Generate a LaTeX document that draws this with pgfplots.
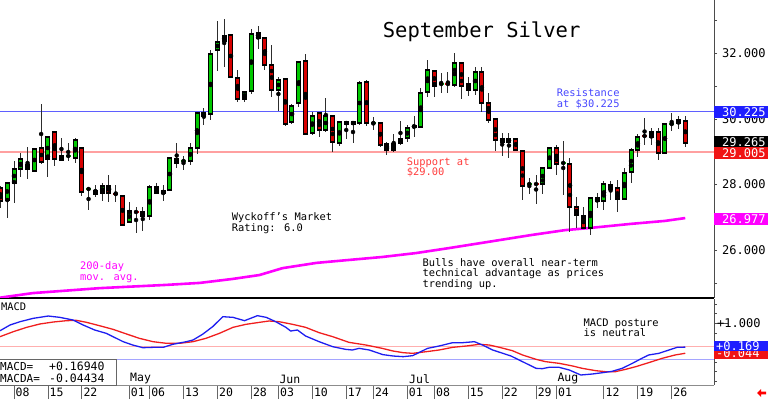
\documentclass[border=0pt]{standalone}
\usepackage{pgfplots}
\pgfplotsset{compat=1.18}
\usepackage{pgfplotstable}
\usepackage{fontspec}
\setmainfont{DejaVu Sans Mono}
\definecolor{cgreen}{RGB}{0,200,0}
\definecolor{cred}{RGB}{215,0,0}
\definecolor{wickc}{RGB}{45,45,45}
\definecolor{restext}{RGB}{70,70,255}
\definecolor{suptext}{RGB}{255,60,60}
\definecolor{mag}{RGB}{255,0,255}
\definecolor{mblue}{RGB}{30,30,240}
\definecolor{mred}{RGB}{240,30,30}
\definecolor{boxblue}{RGB}{30,30,255}
\definecolor{boxred}{RGB}{240,20,20}
\definecolor{mpink}{RGB}{255,175,175}
\definecolor{mlblue}{RGB}{165,165,255}
\definecolor{resblue}{RGB}{95,95,255}
\definecolor{suppink}{RGB}{255,160,160}
\newcommand{\fs}[2]{\fontsize{#1}{#2}\selectfont}

\pgfplotstableread{
x o h l c
-1 27.528 28.076 26.979 28.046
0 28.046 28.717 27.436 28.473
1 28.473 28.960 28.229 28.777
3 28.412 29.082 28.412 29.082
5 28.777 29.479 28.229 29.448
7 28.747 29.418 28.747 28.869
9 28.808 29.418 28.656 29.357
13 27.741 28.046 27.497 27.954
17 26.857 27.467 26.857 27.192
20 27.040 27.985 26.918 27.924
22 27.741 27.985 27.497 27.802
23 27.832 28.808 27.832 28.808
26 28.717 29.265 28.595 29.113
27 29.113 30.210 28.930 30.180
29 30.149 32.101 29.966 31.979
30 32.101 32.985 31.460 32.345
31 32.375 33.046 31.582 32.527
34 30.607 30.820 30.515 30.820
35 30.851 32.741 30.759 32.588
39 30.881 31.277 30.241 31.186
41 29.905 30.454 29.844 30.393
42 30.485 31.765 30.363 31.735
44 29.570 30.210 29.509 30.088
46 29.662 30.637 29.601 30.088
48 29.265 29.936 29.174 29.905
50 29.844 29.936 29.265 29.905
51 29.875 31.155 29.814 31.094
56 29.052 29.540 28.991 29.235
57 29.265 29.936 29.204 29.387
58 29.418 29.814 29.296 29.723
59 29.753 30.088 29.448 29.784
60 29.753 30.942 29.753 30.790
61 30.820 31.796 30.668 31.491
65 31.034 32.009 30.973 31.704
68 30.881 31.582 30.729 31.430
73 29.296 29.570 28.808 29.387
78 28.015 28.534 27.710 28.503
79 28.503 29.143 28.503 29.113
85 26.674 27.619 26.460 27.589
87 27.497 28.107 27.223 28.015
90 27.558 28.503 27.528 28.351
91 28.381 29.113 28.046 29.052
92 29.052 29.540 28.838 29.448
94 29.448 29.723 29.204 29.601
96 28.960 29.875 28.930 29.844
98 29.875 30.088 29.692 29.966
}\upc

\pgfplotstableread{
x o h l c
-2 27.893 27.950 27.284 27.497
2 28.595 29.143 28.168 28.473
4 29.113 30.454 28.625 28.686
6 29.601 29.601 28.564 28.777
10 29.113 29.113 27.650 27.771
12 27.802 27.985 27.619 27.710
14 27.954 28.290 27.467 27.741
16 27.650 27.680 26.765 26.765
19 27.162 27.314 26.582 27.040
21 27.924 28.046 27.710 27.741
24 28.777 29.265 28.503 28.656
28 30.180 30.320 29.814 30.088
32 32.558 32.558 31.277 31.277
33 31.247 31.491 30.515 30.607
36 32.619 32.832 32.131 32.466
37 32.466 32.466 31.491 31.643
38 31.643 32.253 30.668 30.881
40 31.216 31.216 29.784 29.844
43 31.765 31.979 29.540 29.540
45 30.180 30.180 29.448 29.662
47 30.088 30.088 28.991 29.296
49 29.905 29.936 29.387 29.844
52 31.125 31.186 29.784 29.875
54 29.875 29.905 29.143 29.204
55 29.235 29.296 28.899 29.052
62 31.460 31.460 30.668 31.003
66 31.704 31.704 30.607 31.003
67 31.064 31.277 30.698 30.881
69 31.430 31.582 30.210 30.485
70 30.485 30.790 29.875 29.966
71 29.997 29.997 29.021 29.357
72 29.387 29.570 28.869 29.296
74 29.387 29.418 29.021 29.052
75 29.021 29.021 27.528 27.954
80 29.113 29.204 28.290 28.625
82 28.625 28.808 26.552 27.314
83 27.314 27.619 26.674 27.070
84 27.040 27.314 26.643 26.674
86 27.589 27.741 27.284 27.497
88 27.985 28.107 27.528 27.863
89 27.893 28.137 27.162 27.558
95 29.601 29.723 28.747 28.960
99 29.936 30.088 29.143 29.265
}\dnc

\pgfplotstableread{
x o h l c
8 28.850 29.265 28.717 28.869
11 27.850 27.893 27.223 27.863
25 28.700 28.869 28.442 28.717
53 29.860 30.060 29.662 29.875
63 31.003 31.399 30.790 31.064
76 27.954 28.198 27.710 28.015
81 28.595 29.326 27.680 28.656
97 29.830 30.180 29.631 29.844
}\upd

\pgfplotstableread{
x o h l c
15 27.720 27.985 27.467 27.710
18 27.180 27.314 26.521 27.162
64 31.080 31.430 30.790 31.064
77 28.030 28.290 27.406 28.015
93 29.490 30.027 29.204 29.479
}\dnd

\pgfplotsset{
  wick/.style={only marks, mark=none, error bars/.cd, y dir=both, y explicit,
    error mark=none, error bar style={line width=1pt, color=wickc, line cap=butt}},
  bodyo/.style={only marks, mark=none, error bars/.cd, y dir=both, y explicit,
    error mark=none, error bar style={line width=5pt, color=black, line cap=butt}},
  bodyc/.style={only marks, mark=none, error bars/.cd, y dir=both, y explicit,
    error mark=none, error bar style={line width=3pt, color=#1, line cap=butt}},
  dojic/.style={only marks, mark=none, error bars/.cd, y dir=both, y explicit,
    error mark=none, error bar style={line width=5pt, color=#1, line cap=butt}},
}

\begin{document}
\begin{tikzpicture}[x=1pt,y=1pt]
\useasboundingbox (0pt,0pt) rectangle (768pt,399pt);

% ---------------- price panel ----------------
\begin{axis}[at={(0pt,101pt)}, anchor=south west, scale only axis,
  width=714pt, height=298pt,
  xmin=-2.065, xmax=103.24, ymin=24.54, ymax=33.625,
  axis x line*=bottom, axis y line*=right,
  x axis line style={-, black, line width=1.5pt},
  y axis line style={-, black!70, line width=0.8pt},
  xtick=\empty,
  ytick={26,28,30,32}, yticklabels={26.000,28.000,30.000,32.000},
  minor ytick={25,27,29,31,33},
  tick align=outside, major tick length=3pt, minor tick length=3pt,
  tick style={black!70},
  yticklabel style={font=\fs{12}{12}, anchor=west, inner sep=0pt, xshift=5pt, text=black},
]
\addplot[color=mag, line width=2.6pt, mark=none] coordinates {
(-2.06,24.55) (2.8,24.69) (12.6,24.84) (22.5,24.94) (27.4,25.00) (32.2,25.12)
(36.2,25.24) (39.6,25.45) (44.6,25.61) (49.4,25.70) (54.3,25.79) (59.3,25.91)
(64.1,26.06) (69.0,26.22) (76.3,26.46) (81.3,26.61) (84.7,26.67) (91.0,26.80)
(96.0,26.89) (99.0,26.977)};
\addplot[color=suppink, line width=2pt, mark=none] coordinates {(-2.065,29.005) (103.24,29.005)};
\addplot[draw=resblue, color=resblue, line width=1.6pt, mark=none] coordinates {(-2.065,30.225) (103.24,30.225)};
% wicks
\addplot[wick] table[x=x, y expr={(\thisrow{h}+\thisrow{l})/2},
  y error expr={(\thisrow{h}-\thisrow{l})/2}] {\upc};
\addplot[wick] table[x=x, y expr={(\thisrow{h}+\thisrow{l})/2},
  y error expr={(\thisrow{h}-\thisrow{l})/2}] {\dnc};
\addplot[wick] table[x=x, y expr={(\thisrow{h}+\thisrow{l})/2},
  y error expr={(\thisrow{h}-\thisrow{l})/2}] {\upd};
\addplot[wick] table[x=x, y expr={(\thisrow{h}+\thisrow{l})/2},
  y error expr={(\thisrow{h}-\thisrow{l})/2}] {\dnd};
% bodies
\addplot[bodyo] table[x=x, y expr={(\thisrow{o}+\thisrow{c})/2},
  y error expr={abs(\thisrow{c}-\thisrow{o})/2+0.016}] {\upc};
\addplot[bodyc=cgreen] table[x=x, y expr={(\thisrow{o}+\thisrow{c})/2},
  y error expr={max(abs(\thisrow{c}-\thisrow{o})/2-0.016,0.004)}] {\upc};
\addplot[bodyo] table[x=x, y expr={(\thisrow{o}+\thisrow{c})/2},
  y error expr={abs(\thisrow{c}-\thisrow{o})/2+0.016}] {\dnc};
\addplot[bodyc=cred] table[x=x, y expr={(\thisrow{o}+\thisrow{c})/2},
  y error expr={max(abs(\thisrow{c}-\thisrow{o})/2-0.016,0.004)}] {\dnc};
\addplot[dojic=cgreen] table[x=x, y=c, y error expr={0.022}] {\upd};
\addplot[dojic=cred] table[x=x, y=c, y error expr={0.022}] {\dnd};
\end{axis}

% ---------------- MACD panel ----------------
\begin{axis}[at={(0pt,14pt)}, anchor=south west, scale only axis,
  width=714pt, height=86pt,
  xmin=-2.065, xmax=103.24, ymin=-1.138, ymax=1.828,
  axis x line*=bottom, axis y line*=right,
  x axis line style={-, black!45, line width=0.8pt},
  y axis line style={-, black!70, line width=0.8pt},
  xtick={0,5,10,17,20,25,30,35,39,44,49,53,58,62,67,72,77,80,87,92,97},
  xticklabels={08,15,22,01,06,13,20,28,03,10,17,24,01,08,15,22,29,01,12,19,26},
  x tick style={black!60, line width=0.8pt},
  xtick align=outside, major tick length=14pt,
  xticklabel style={font=\fs{11.5}{12}, anchor=west, inner sep=0pt, xshift=1.5pt, yshift=7pt},
  ytick={1}, yticklabels={+1.000},
  minor ytick={-1,-0.667,-0.333,0,0.333,0.667,1.333,1.667},
  ytick align=outside,
  y tick style={black!70},
  yticklabel style={font=\fs{12}{12}, anchor=west, inner sep=0pt, xshift=-11pt, text=black},
]
\addplot[color=mpink, line width=1.2pt, mark=none] coordinates {(-2.065,0.18) (103.24,0.18)};
\addplot[color=mlblue, line width=1.4pt, mark=none] coordinates {(-2.065,-0.25) (103.24,-0.25)};
\addplot[color=mred, line width=1.3pt, mark=none] coordinates {
(-2.06,0.529) (-0.1,0.701) (1.87,0.851) (3.82,0.966) (5.78,1.034) (7.75,1.080)
(9.2,1.092) (10.7,1.023) (12.6,0.908) (14.6,0.782) (16.6,0.621) (18.5,0.471)
(20.5,0.356) (22.5,0.299) (24.4,0.299) (26.4,0.356) (28.3,0.471) (30.3,0.644)
(32.3,0.851) (34.2,0.954) (36.2,1.023) (37.6,1.069) (39.1,1.045) (41.1,0.954)
(43.0,0.851) (45.0,0.667) (47.0,0.529) (49.4,0.333) (51.9,0.241) (54.3,0.126)
(55.9,0.034) (57.4,-0.023) (58.8,-0.046) (60.8,0.011) (62.7,0.069) (64.7,0.161)
(66.7,0.207) (68.6,0.264) (70.1,0.241) (71.6,0.161) (73.5,0.046) (75.0,-0.103)
(77.0,-0.253) (78.4,-0.333) (80.4,-0.391) (82.4,-0.483) (83.8,-0.563) (85.8,-0.644)
(87.2,-0.678) (88.7,-0.678) (90.2,-0.598) (91.7,-0.506) (93.6,-0.368) (95.6,-0.218)
(97.5,-0.103) (99.0,-0.044)};
\addplot[color=mblue, line width=1.3pt, mark=none] coordinates {
(-2.06,0.734) (-0.59,0.931) (0.88,1.045) (2.84,1.161) (5.05,1.241) (6.76,1.195)
(8.72,1.103) (10.2,0.931) (11.9,0.759) (13.6,0.644) (14.6,0.529) (16.1,0.356)
(17.5,0.241) (19.0,0.149) (20.5,0.161) (22.0,0.161) (23.4,0.264) (25.4,0.356)
(26.4,0.414) (27.8,0.609) (29.3,0.874) (30.8,1.218) (32.3,1.195) (34.0,1.080)
(35.9,1.253) (37.2,1.195) (38.6,1.045) (40.1,0.851) (40.8,0.724) (41.8,0.759)
(43.0,0.552) (45.0,0.356) (47.0,0.184) (48.9,0.092) (49.9,0.069) (50.9,0.126)
(52.4,0.069) (54.4,-0.09) (55.9,-0.138) (57.4,-0.161) (58.8,-0.126) (59.8,-0.011)
(61.0,0.126) (62.7,0.207) (64.7,0.322) (66.2,0.322) (67.9,0.356) (69.1,0.241)
(70.6,0.069) (72.1,-0.046) (73.3,-0.138) (74.5,-0.276) (76.0,-0.448) (77.0,-0.563)
(77.9,-0.575) (78.9,-0.529) (80.4,-0.529) (81.9,-0.621) (82.8,-0.713) (83.6,-0.793)
(85.3,-0.759) (86.8,-0.713) (88.2,-0.667) (89.7,-0.563) (91.2,-0.391) (92.6,-0.218)
(93.6,-0.103) (95.1,-0.046) (96.6,0.069) (97.8,0.161) (99.0,0.169)};
\end{axis}

% ---------------- annotations ----------------
\node[anchor=west, inner sep=0pt, font=\fs{20.5}{22}] at (382.7pt,367pt) {September Silver};
\node[anchor=west, inner sep=0pt, align=left, text=restext, font=\fs{10.4}{10.7}] at (556.7pt,300.3pt) {Resistance\\at \$30.225};
\node[anchor=west, inner sep=0pt, align=left, text=suptext, font=\fs{10.4}{10.2}] at (406.7pt,231.7pt) {Support at\\\$29.00};
\node[anchor=west, inner sep=0pt, align=left, font=\fs{10.4}{11}] at (231.7pt,175.5pt) {Wyckoff's Market\\Rating: 6.0};
\node[anchor=west, inner sep=0pt, align=left, font=\fs{10.4}{10.5}] at (422.3pt,125pt) {Bulls have overall near-term\\technical advantage as prices\\trending up.};
\node[anchor=west, inner sep=0pt, align=left, text=mag, font=\fs{10.4}{11}] at (80pt,126.5pt) {200-day\\mov. avg.};
\node[anchor=west, inner sep=0pt, font=\fs{10.4}{11}] at (1pt,92.3pt) {MACD};
\node[anchor=west, inner sep=0pt, align=left, font=\fs{10.4}{10.4}] at (583.3pt,71.5pt) {MACD posture\\ is neutral};
\draw[black!60, fill=white, line width=0.8pt] (-1pt,14pt) rectangle (116pt,40pt);
\node[anchor=west, inner sep=0pt, font=\fs{11}{12}] at (0pt,32.3pt) {MACD=};
\node[anchor=west, inner sep=0pt, font=\fs{11}{12}] at (0pt,20.3pt) {MACDA=};
\node[anchor=west, inner sep=0pt, font=\fs{11.5}{12}] at (49pt,32.3pt) {+0.16940};
\node[anchor=west, inner sep=0pt, font=\fs{11.5}{12}] at (49pt,20.3pt) {-0.04434};
\foreach \m/\xx in {May/130, Jun/279.3, Jul/409, Aug/557.3}
  \node[anchor=west, inner sep=0pt, font=\fs{11.5}{12}] at (\xx pt,20pt) {\m};

% right-hand value boxes
\node[anchor=west, fill=boxblue, text=white, inner sep=0pt, minimum height=12pt, text width=54pt, align=left, font=\fs{12}{12}] at (714pt,287.3pt) {\hspace*{8pt}30.225};
\node[anchor=west, fill=black, text=white, inner sep=0pt, minimum height=11pt, text width=54pt, align=left, font=\fs{12}{12}] at (714pt,257pt) {\hspace*{8pt}29.265};
\node[anchor=west, fill=boxred, text=white, inner sep=0pt, minimum height=12pt, text width=54pt, align=left, font=\fs{12}{12}] at (714pt,246.2pt) {\hspace*{8pt}29.005};
\node[anchor=west, fill=mag, text=white, inner sep=0pt, minimum height=12pt, text width=54pt, align=left, font=\fs{12}{12}] at (714pt,179.7pt) {\hspace*{8pt}26.977};
\node[anchor=west, fill=boxred, text=white, inner sep=0pt, minimum height=11pt, text width=54pt, align=left, font=\fs{12}{12}] at (714pt,45.5pt) {\hspace*{2pt}-0.044};
\node[anchor=west, fill=boxblue, text=white, inner sep=0pt, minimum height=10pt, text width=54pt, align=left, font=\fs{12}{12}] at (714pt,53pt) {\hspace*{2pt}+0.169};
\fill[red] (757pt,6pt) -- (761pt,10pt) -- (761pt,7.3pt) -- (766pt,7.3pt) -- (766pt,4.7pt) -- (761pt,4.7pt) -- (761pt,2pt) -- cycle;
\end{tikzpicture}
\end{document}
